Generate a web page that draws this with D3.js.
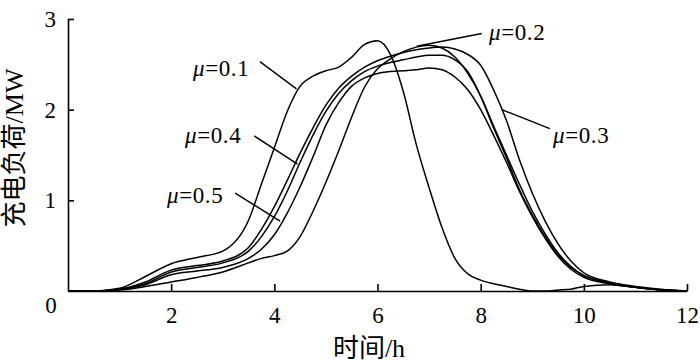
<!DOCTYPE html>
<html><head><meta charset="utf-8">
<script src="https://cdn.jsdelivr.net/npm/d3@7"></script>
<style>
html,body{margin:0;padding:0;background:#fff;}
svg{display:block;}
</style></head>
<body><svg id="c" width="700" height="363"></svg>
<script>
// ---- data ----
const hours = [0,0.5,1,1.5,2,2.5,3,3.5,3.75,4,4.25,4.5,4.75,5,5.25,5.5,5.75,6,6.25,6.5,6.75,7,7.25,7.5,7.75,8,8.25,8.5,8.75,9,9.25,9.5,9.75,10,10.5,11,11.5,12];
const mu01 = [0,0,0.03,0.16,0.30,0.37,0.44,0.78,1.18,1.58,1.98,2.26,2.37,2.43,2.47,2.58,2.72,2.76,2.61,2.2,1.62,1.14,0.7,0.36,0.19,0.12,0.08,0.05,0.02,0.0,0.0,0.01,0.02,0.05,0.07,0.04,0.01,0];
const mu03 = [0,0,0.02,0.1,0.23,0.28,0.33,0.48,0.68,0.93,1.22,1.52,1.8,2.05,2.24,2.37,2.47,2.54,2.59,2.63,2.66,2.68,2.69,2.67,2.61,2.49,2.22,1.88,1.45,1.08,0.77,0.52,0.33,0.2,0.1,0.05,0.02,0];
const mu04 = [0,0,0.02,0.08,0.21,0.26,0.31,0.44,0.6,0.82,1.1,1.42,1.72,1.98,2.18,2.32,2.42,2.48,2.52,2.55,2.58,2.6,2.6,2.55,2.42,2.15,1.8,1.47,1.12,0.84,0.6,0.4,0.26,0.17,0.09,0.04,0.01,0];
const mu05 = [0,0,0.02,0.07,0.18,0.22,0.26,0.36,0.46,0.62,0.86,1.15,1.48,1.83,2.08,2.26,2.35,2.4,2.42,2.43,2.44,2.46,2.44,2.36,2.22,2.0,1.72,1.42,1.1,0.82,0.58,0.38,0.24,0.15,0.08,0.04,0.01,0];
const mu02 = [0,0,0.01,0.05,0.1,0.15,0.21,0.31,0.36,0.39,0.44,0.6,0.88,1.2,1.55,1.92,2.25,2.45,2.56,2.64,2.69,2.71,2.68,2.58,2.4,2.15,1.82,1.5,1.18,0.88,0.63,0.42,0.27,0.17,0.09,0.04,0.01,0];
const seriesNames = ["μ=0.1","μ=0.2","μ=0.3","μ=0.4","μ=0.5"];
const seriesValues = [mu01, mu02, mu03, mu04, mu05];
const xTicks = [2,4,6,8,10,12];
const yTicks = [1,2,3];
const originLabel = "0";
const xTitle = "时间/h";
const yTitle = "充电负荷/MW";
// label text anchor (px) and leader line ends (hours, MW)
const labelPos = [
  {tx:193, ty:68, lx:[3.72,4.43], ly:[2.53,2.23]},
  {tx:489, ty:32, lx:[8.02,6.76], ly:[2.84,2.70]},
  {tx:553, ty:135, lx:[9.34,8.41], ly:[1.79,2.00]},
  {tx:185, ty:135, lx:[3.61,4.45], ly:[1.71,1.40]},
  {tx:167, ty:195, lx:[3.24,4.11], ly:[1.08,0.77]}
];

const SERIF = '"Liberation Serif","Times New Roman",Times,"DejaVu Serif",serif';
const CJK = '"Liberation Serif","Times New Roman","Noto Sans CJK SC",serif';

const svg = d3.select("#c");
const x = d3.scaleLinear().domain([0,12]).range([68,687]);
const y = d3.scaleLinear().domain([0,3]).range([291,19]);

// axes
const xAxis = d3.axisBottom(x).tickValues(xTicks).tickFormat(d3.format("d")).tickSizeInner(-7).tickSizeOuter(0).tickPadding(16);
const gx = svg.append("g").attr("transform","translate(0,291)").call(xAxis);
const yAxis = d3.axisLeft(y).tickValues(yTicks).tickFormat(d3.format("d")).tickSizeInner(-6).tickSizeOuter(0).tickPadding(12);
const gy = svg.append("g").attr("transform","translate(68,0)").call(yAxis);
[gx,gy].forEach(g=>{
  g.attr("font-family",SERIF).attr("font-size",23);
  g.selectAll("text").attr("fill","#000").style("font-family",SERIF).style("font-size","23px");
});
svg.selectAll(".domain, .tick line").attr("stroke","#000").attr("stroke-width",1.6);
svg.append("text").attr("x",51).attr("y",305).attr("dy","0.35em").attr("text-anchor","middle")
  .style("font-family",SERIF).style("font-size","23px").text(originLabel);

// titles
svg.append("text").attr("x",369).attr("y",348).attr("dy","0.35em").attr("text-anchor","middle")
  .style("font-family",CJK).style("font-size","26px").text(xTitle);
svg.append("text").attr("transform","translate(14,148) rotate(-90)").attr("dy","0.35em")
  .attr("text-anchor","middle").style("font-family",CJK).style("font-size","26px").text(yTitle);

// lines
const line = d3.line().x((d,i)=>x(hours[i])).y(d=>y(d)).curve(d3.curveMonotoneX);
seriesValues.forEach(vals=>{
  svg.append("path").datum(vals).attr("d",line).attr("fill","none")
    .attr("stroke","#000").attr("stroke-width",1.5);
});

// labels
seriesNames.forEach((nm,i)=>{
  const p = labelPos[i];
  const t = svg.append("text").attr("x",p.tx).attr("y",p.ty).attr("dy","0.35em")
    .style("font-family",SERIF).style("font-size","23px").style("letter-spacing","0.6px");
  t.append("tspan").attr("font-style","italic").text(nm.slice(0,1));
  t.append("tspan").text(nm.slice(1));
  svg.append("line").attr("x1",x(p.lx[0])).attr("y1",y(p.ly[0])).attr("x2",x(p.lx[1])).attr("y2",y(p.ly[1]))
    .attr("stroke","#000").attr("stroke-width",1.4);
});
</script></body></html>
